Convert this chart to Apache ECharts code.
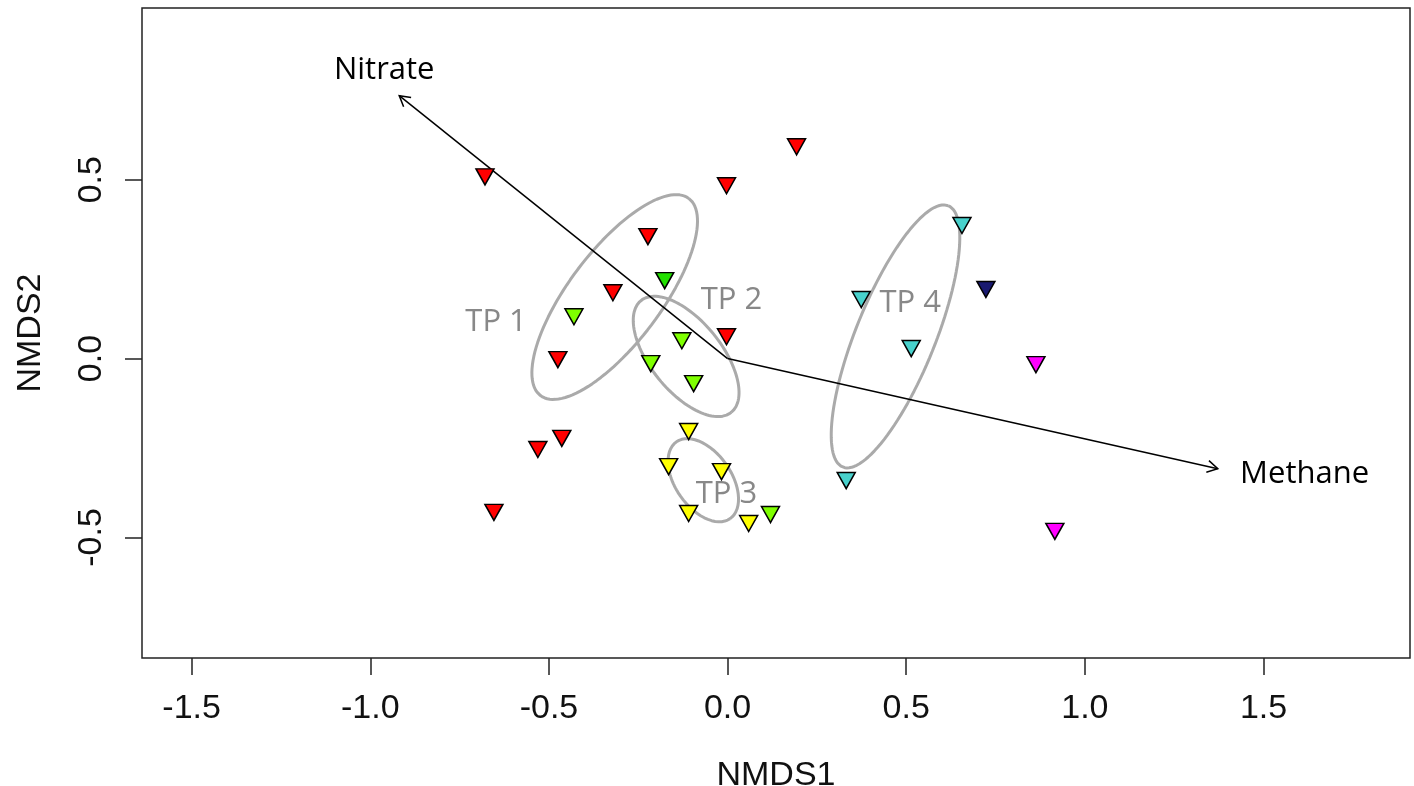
<!DOCTYPE html>
<html>
<head>
<meta charset="utf-8">
<script src="https://cdn.jsdelivr.net/npm/echarts@6/dist/echarts.min.js"></script>
<style>
  html, body { margin: 0; padding: 0; background: #fff; }
  #chart { width: 1414px; height: 786px; }
</style>
</head>
<body>
<div id="chart"></div>
<script>
// tick labels
const xTicks = [-1.5, -1.0, -0.5, 0.0, 0.5, 1.0, 1.5];
const yTicks = [-0.5, 0.0, 0.5];

// sample scores (NMDS1, NMDS2), grouped by fill colour
const redPts = [[-0.679, 0.508], [0.193, 0.592], [-0.003, 0.483], [-0.223, 0.341], [-0.321, 0.184],
  [-0.003, 0.061], [-0.475, -0.003], [-0.531, -0.254], [-0.464, -0.223], [-0.654, -0.430]];
const limePts = [[-0.430, 0.117], [-0.128, 0.050], [-0.215, -0.014], [-0.095, -0.070], [0.120, -0.436]];
const greenPts = [[-0.176, 0.218]];
const yellowPts = [[-0.109, -0.204], [-0.165, -0.302], [-0.017, -0.316], [-0.109, -0.433], [0.059, -0.461]];
const turqPts = [[0.656, 0.372], [0.374, 0.165], [0.514, 0.028], [0.332, -0.341]];
const navyPts = [[0.723, 0.193]];
const magentaPts = [[0.863, -0.017], [0.916, -0.483]];

// group ellipses: centre, semi-axes, angle (deg)
const ellipseNames = ['TP 1', 'TP 2', 'TP 3', 'TP 4'];
const ellipseCenters = [[-0.316, 0.172], [-0.116, 0.006], [-0.068, -0.340], [0.470, 0.062]];
const ellipseAxes = [[0.345, 0.129], [0.201, 0.099], [0.131, 0.078], [0.394, 0.111]];
const ellipseAngles = [53, -51, -55, 68];
const ellipseLabelPos = [[-0.648, 0.103], [0.011, 0.162], [-0.003, -0.380], [0.511, 0.154]];

// environmental vectors
const vectorNames = ['Nitrate', 'Methane'];
const vectorTips = [[-0.919, 0.735], [1.372, -0.308]];
const vectorLabelPos = [[-0.961, 0.807], [1.615, -0.324]];

function ellipsePath(c, ax, angDeg) {
  const out = [];
  const t = angDeg * Math.PI / 180;
  for (let i = 0; i <= 120; i++) {
    const u = i / 120 * 2 * Math.PI;
    const ex = ax[0] * Math.cos(u), ey = ax[1] * Math.sin(u);
    out.push([c[0] + ex * Math.cos(t) - ey * Math.sin(t), c[1] + ex * Math.sin(t) + ey * Math.cos(t)]);
  }
  return out;
}

function pointSeries(name, data, color) {
  return {
    name: name,
    type: 'scatter',
    data: data,
    symbol: 'triangle',
    symbolRotate: 180,
    symbolSize: [18, 16],
    itemStyle: { color: color, borderColor: '#000', borderWidth: 1.5, opacity: 1 },
    z: 5
  };
}

const chart = echarts.init(document.getElementById('chart'));

const series = [];

ellipseCenters.forEach((c, i) => {
  series.push({
    name: ellipseNames[i],
    type: 'line',
    data: ellipsePath(c, ellipseAxes[i], ellipseAngles[i]),
    showSymbol: false,
    symbol: 'none',
    smooth: false,
    lineStyle: { color: '#aaaaaa', width: 3 },
    z: 2
  });
});

series.push({
  type: 'custom',
  name: 'vectors',
  data: vectorTips.map(p => [0, 0, p[0], p[1]]),
  renderItem: function (params, api) {
    const p0 = api.coord([api.value(0), api.value(1)]);
    const p1 = api.coord([api.value(2), api.value(3)]);
    const ang = Math.atan2(p1[1] - p0[1], p1[0] - p0[0]);
    const L = 12, a = Math.PI / 6;
    const h1 = [p1[0] - L * Math.cos(ang - a), p1[1] - L * Math.sin(ang - a)];
    const h2 = [p1[0] - L * Math.cos(ang + a), p1[1] - L * Math.sin(ang + a)];
    return {
      type: 'group',
      children: [
        { type: 'line', shape: { x1: p0[0], y1: p0[1], x2: p1[0], y2: p1[1] }, style: { stroke: '#000', lineWidth: 1.5 } },
        { type: 'polyline', shape: { points: [h1, p1, h2] }, style: { stroke: '#000', lineWidth: 1.5, fill: null } }
      ]
    };
  },
  z: 3
});

function textSeries(name, pos, labels, color) {
  return {
    type: 'custom',
    name: name,
    data: pos.map((p, i) => ({ value: p, name: labels[i] })),
    renderItem: function (params, api) {
      const p = api.coord([api.value(0), api.value(1)]);
      return {
        type: 'text',
        x: p[0], y: p[1],
        style: {
          text: labels[params.dataIndex],
          font: '31px "Open Sans"',
          fill: color,
          align: 'center',
          verticalAlign: 'middle'
        }
      };
    },
    z: 4
  };
}

series.push(textSeries('vectorLabels', vectorLabelPos, vectorNames, '#000'));
series.push(textSeries('groupLabels', ellipseLabelPos, ellipseNames, '#888888'));

series.push(pointSeries('red', redPts, '#ff0000'));
series.push(pointSeries('lime', limePts, '#7fff00'));
series.push(pointSeries('green', greenPts, '#22e000'));
series.push(pointSeries('yellow', yellowPts, '#ffff00'));
series.push(pointSeries('turquoise', turqPts, '#48d1cc'));
series.push(pointSeries('navy', navyPts, '#191970'));
series.push(pointSeries('magenta', magentaPts, '#ff00ff'));

const axisFont = { fontFamily: '"Liberation Sans", Arial, sans-serif', fontSize: 34, color: '#111' };

const option = {
  animation: false,
  backgroundColor: '#fff',
  grid: {
    left: 142, right: 4, top: 8, bottom: 128,
    outerBoundsMode: 'none',
    containLabel: false,
    show: true, borderColor: '#222', borderWidth: 1.5, backgroundColor: 'transparent'
  },
  xAxis: {
    type: 'value',
    min: -1.639, max: 1.910,
    name: 'NMDS1',
    nameLocation: 'middle',
    nameGap: 101,
    nameTextStyle: axisFont,
    axisLine: { show: false, onZero: false },
    splitLine: { show: false },
    axisTick: { show: true, length: 17, customValues: xTicks, lineStyle: { color: '#222', width: 1.5 } },
    axisLabel: Object.assign({ customValues: xTicks, margin: 34, formatter: v => v.toFixed(1) }, axisFont)
  },
  yAxis: {
    type: 'value',
    min: -0.837, max: 0.980,
    name: 'NMDS2',
    nameLocation: 'middle',
    nameGap: 94,
    nameRotate: 90,
    nameTextStyle: axisFont,
    axisLine: { show: false, onZero: false },
    splitLine: { show: false },
    axisTick: { show: true, length: 17, customValues: yTicks, lineStyle: { color: '#222', width: 1.5 } },
    axisLabel: Object.assign({ customValues: yTicks, margin: 33, rotate: 90, formatter: v => v.toFixed(1) }, axisFont)
  },
  series: series
};

chart.setOption(option);
</script>
</body>
</html>
